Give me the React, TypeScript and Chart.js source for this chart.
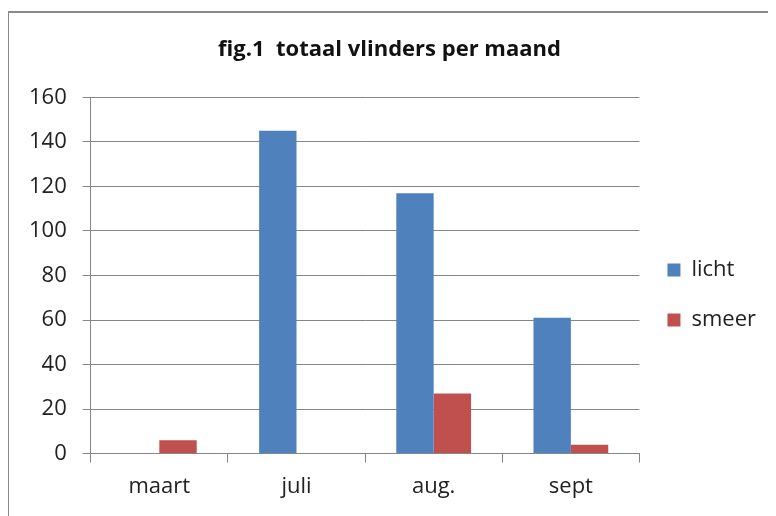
import React, { useEffect, useRef } from "react";
import { Chart, registerables } from "chart.js";

Chart.register(...registerables);

const categories = ["maart", "juli", "aug.", "sept"];
const lichtValues = [0, 145, 117, 61];
const smeerValues = [6, 0, 27, 4];
const titleText = "fig.1  totaal vlinders per maand";

export default function App() {
  const ref = useRef<HTMLCanvasElement | null>(null);
  useEffect(() => {
    if (!ref.current) return;
    const font = "'Open Sans', sans-serif";
    const chart = new Chart(ref.current, {
      type: "bar",
      data: {
        labels: categories,
        datasets: [
          { label: "licht", data: lichtValues, backgroundColor: "#4F81BD", categoryPercentage: 0.545, barPercentage: 1 },
          { label: "smeer", data: smeerValues, backgroundColor: "#C0504D", categoryPercentage: 0.545, barPercentage: 1 },
        ],
      },
      options: {
        animation: false,
        responsive: false,
        maintainAspectRatio: false,
        layout: { padding: { left: 5, right: 10, top: 0, bottom: 0 } },
        plugins: {
          title: {
            display: true,
            text: titleText,
            color: "#111",
            font: { family: font, size: 22, weight: "bold" },
            padding: { top: 29, bottom: 34 },
          },
          legend: {
            position: "right",
            title: {
              display: true,
              text: " ",
              font: { family: font, size: 20 },
              padding: { top: 24, bottom: 23 },
            },
            labels: {
              color: "#222",
              font: { family: font, size: 22 },
              boxWidth: 13,
              boxHeight: 13,
              padding: 28,
            },
          },
          tooltip: { enabled: false },
        },
        scales: {
          x: {
            grid: { drawOnChartArea: false, drawTicks: true, offset: true, tickLength: 9, color: "#868686" },
            border: { display: true, color: "#868686" },
            ticks: { color: "#222", font: { family: font, size: 22 }, padding: 11 },
          },
          y: {
            min: 0,
            max: 160,
            ticks: { stepSize: 20, color: "#222", font: { family: font, size: 22 }, padding: 16 },
            grid: { color: "#868686", tickLength: 8 },
            border: { display: true, color: "#868686" },
          },
        },
      },
    });
    return () => chart.destroy();
  }, []);
  return (
    <div style={{ position: "relative", width: 768, height: 508, overflow: "hidden" }}>
      <div
        style={{
          position: "absolute",
          left: -1,
          top: 3,
          width: 900,
          height: 900,
          borderLeft: "2px solid #8a8a8a",
          borderTop: "2px solid #8a8a8a",
        }}
      />
      <canvas ref={ref} width={768} height={503} style={{ position: "absolute", left: 0, top: 0 }} />
    </div>
  );
}
